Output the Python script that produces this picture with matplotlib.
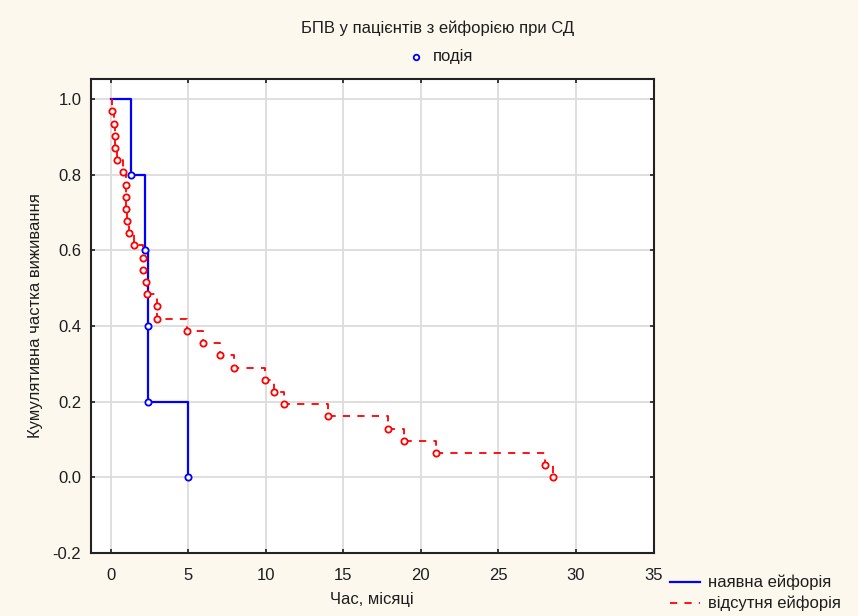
import matplotlib
matplotlib.use("Agg")
import matplotlib.pyplot as plt
from matplotlib.lines import Line2D

plt.rcParams['font.family'] = ['Liberation Sans', 'DejaVu Sans']

# Kaplan-Meier estimates (time in months, cumulative survival after each event)
euph_times = [1.3, 2.2, 2.4, 2.4, 5.0]
euph_surv = [0.8, 0.6, 0.4, 0.2, 0.0]

no_euph_times = [0.05, 0.2, 0.25, 0.3, 0.4, 0.8, 1.0, 1.0, 1.0, 1.05, 1.2, 1.5,
                 2.05, 2.1, 2.25, 2.3, 3.0, 3.0, 4.9, 5.95, 7.05, 7.95, 9.95,
                 10.5, 11.2, 14.0, 17.9, 18.9, 21.0, 28.0, 28.5]
no_euph_surv = [0.968, 0.935, 0.903, 0.871, 0.839, 0.806, 0.774, 0.742, 0.710,
                0.677, 0.645, 0.613, 0.581, 0.548, 0.516, 0.484, 0.452, 0.419,
                0.387, 0.355, 0.323, 0.290, 0.258, 0.226, 0.194, 0.161, 0.129,
                0.097, 0.065, 0.032, 0.0]

x_ticks = [0, 5, 10, 15, 20, 25, 30, 35]
y_ticks = [-0.2, 0.0, 0.2, 0.4, 0.6, 0.8, 1.0]

title = "БПВ у пацієнтів з ейфорією при СД"
event_label = "подія"
series_labels = ["наявна ейфорія", "відсутня ейфорія"]
xlabel = "Час, місяці"
ylabel = "Кумулятивна частка виживання"

W, H = 858, 616
FS = 12
TXT = "#1e1e1e"
fig = plt.figure(figsize=(W / 100, H / 100), dpi=100, facecolor="#fdf8ee")
ax = fig.add_axes([91 / W, 1 - 553 / H, (653.5 - 91) / W, (553 - 79) / H])
ax.set_facecolor("white")

blue = "#0000ff"
red = "#ff0000"

ax.step([0] + euph_times, [1.0] + euph_surv, where="post", color=blue, lw=1.6, zorder=3)
ax.plot(euph_times, euph_surv, ls="none", marker="o", ms=4.5, mfc="white",
        mec=blue, mew=1.3, zorder=4)

ax.step([0] + no_euph_times, [1.0] + no_euph_surv, where="post", color=red, lw=1.3,
        ls=(0, (4, 4)), zorder=3)
ax.plot(no_euph_times, no_euph_surv, ls="none", marker="o", ms=4.5, mfc="white",
        mec=red, mew=1.3, zorder=4)

ax.set_xlim(-1.28, 35)
ax.set_ylim(-0.2, 1.053)
ax.set_xticks(x_ticks)
ax.set_yticks(y_ticks)
ax.set_xticklabels([str(t) for t in x_ticks])
ax.set_yticklabels([f"{t:.1f}" for t in y_ticks])
ax.grid(True, color="#dcdcdc", lw=1.3)
ax.set_axisbelow(True)
ax.tick_params(direction="in", length=3, width=1.2, top=True, right=True,
               labelsize=FS, colors=TXT)
ax.tick_params(axis="x", pad=10.5)
ax.tick_params(axis="y", pad=7)
for s in ax.spines.values():
    s.set_linewidth(1.5)
    s.set_color("#222222")

ax.set_xlabel(xlabel, fontsize=FS, color=TXT, labelpad=7)
ax.set_ylabel(ylabel, fontsize=FS, color=TXT, labelpad=7)

fig.text(438 / W, 1 - 28 / H, title, ha="center", va="center", fontsize=FS, color=TXT)
fig.lines.append(Line2D([416 / W], [1 - 57 / H], transform=fig.transFigure, ls="none",
                        marker="o", ms=4, mfc="white", mec=blue, mew=1.3))
fig.text(433 / W, 1 - 57 / H, event_label, ha="left", va="center", fontsize=FS, color=TXT)

fig.lines.append(Line2D([670 / W, 700 / W], [1 - 582 / H] * 2, transform=fig.transFigure,
                        color=blue, lw=1.6))
fig.text(708 / W, 1 - 582 / H, series_labels[0], ha="left", va="center", fontsize=FS,
         color=TXT)
fig.lines.append(Line2D([670 / W, 700 / W], [1 - 603 / H] * 2, transform=fig.transFigure,
                        color=red, lw=1.3, ls=(0, (4, 4))))
fig.text(708 / W, 1 - 603 / H, series_labels[1], ha="left", va="center", fontsize=FS,
         color=TXT)

fig.savefig("out.png", dpi=100, facecolor=fig.get_facecolor())
